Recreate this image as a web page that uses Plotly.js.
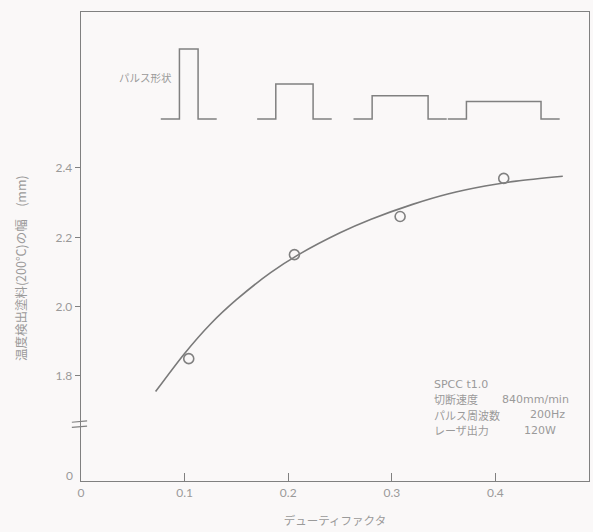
<!DOCTYPE html>
<html>
<head>
<meta charset="utf-8">
<script src="https://cdn.plot.ly/plotly-3.0.1.min.js"></script>
<style>
  html, body { margin: 0; padding: 0; background: #faf8f8; }
  #chart { width: 593px; height: 532px; }
</style>
</head>
<body>
<div id="chart"></div>
<script>
// Measured points: duty factor vs width of the 200°C temperature-indicating paint mark (mm)
const dutyFactor = [0.104, 0.206, 0.308, 0.408];
const markWidth  = [1.85, 2.15, 2.26, 2.37];

// Fitted trend curve through the measurements
const fitDuty  = [0.072, 0.10, 0.125, 0.15, 0.183, 0.21, 0.25, 0.28, 0.32, 0.354, 0.39, 0.42, 0.465];
const fitWidth = [1.755, 1.865, 1.95, 2.02, 2.098, 2.15, 2.213, 2.252, 2.295, 2.325, 2.348, 2.362, 2.376];

// Pulse illustrations: nominal duty of each pulse
const pulseDuty = [0.1, 0.2, 0.3, 0.4];

// Axis tick labels
const xTickVals = [0, 0.1, 0.2, 0.3, 0.4];
const xTickText = ['0', '0.1', '0.2', '0.3', '0.4'];
const yTickVals = [1.8, 2.0, 2.2, 2.4];
const yTickText = ['1.8', '2.0', '2.2', '2.4'];

// Cutting conditions: label / value pairs
const condLabels = ['SPCC t1.0', '切断速度', 'パルス周波数', 'レーザ出力'];
const condValues = ['', '840mm/min', '200Hz', '120W'];

const ink = '#808080';
const textInk = '#9a9a9a';
const jpFont = '"Noto Sans CJK JP", "Noto Sans", sans-serif';
const numFont = '"DejaVu Sans", "Noto Sans", sans-serif';
const tickFont = 'Lato, "Noto Sans", sans-serif';

// Square pulse outlines: width ∝ duty, height ∝ 1/duty (same mean power), centred on each duty
const pulseBase = 2.541;     // baseline level in y units
const pulseTail = 0.018;     // flat lead-in / lead-out in x units
const widthPerDuty = 0.18;
const heightScale = 0.0202;
const shapes = pulseDuty.map((d, i) => {
  const cx = dutyFactor[i];
  const w = d * widthPerDuty;
  const h = heightScale / d;
  const x0 = cx - w / 2, x1 = cx + w / 2;
  return {
    type: 'path', xref: 'x', yref: 'y', layer: 'above',
    path: `M ${x0 - pulseTail} ${pulseBase} L ${x0} ${pulseBase} L ${x0} ${pulseBase + h} ` +
          `L ${x1} ${pulseBase + h} L ${x1} ${pulseBase} L ${x1 + pulseTail} ${pulseBase}`,
    line: { color: ink, width: 1.5 }
  };
});

// Axis break marks on the y axis
const breakY = 1.661, breakGap = 0.0075;
[-1, 1].forEach(s => {
  shapes.push({
    type: 'line', xref: 'paper', yref: 'y', layer: 'above',
    x0: -0.018, x1: 0.012,
    y0: breakY + s * breakGap - 0.002, y1: breakY + s * breakGap + 0.002,
    line: { color: ink, width: 1.2 }
  });
});

const annotations = [
  // origin label of the broken y axis
  { xref: 'paper', yref: 'paper', x: -0.012, y: 0.011, xanchor: 'right', yanchor: 'middle',
    text: '0', showarrow: false, font: { family: tickFont, size: 12, color: textInk } },
  { xref: 'paper', yref: 'paper', x: 0.071, y: 0.861, xanchor: 'left', yanchor: 'middle',
    text: 'パルス形状', showarrow: false, font: { family: jpFont, size: 10.5, color: textInk } },
  // y axis title
  { xref: 'paper', yref: 'paper', x: -0.12, y: 0.454, xanchor: 'center', yanchor: 'middle',
    textangle: -90, text: '温度検出塗料(200℃)の幅\u3000(mm)', showarrow: false,
    font: { family: jpFont, size: 12.5, color: textInk } }
];
const condY = [0.2068, 0.1738, 0.1408, 0.1078];
const valueX = [0, 0.825, 0.880, 0.868];
condLabels.forEach((t, i) => {
  annotations.push({
    xref: 'paper', yref: 'paper', x: 0.691, y: condY[i], xanchor: 'left', yanchor: 'middle',
    text: t, showarrow: false,
    font: { family: i === 0 ? numFont : jpFont, size: 11, color: textInk }
  });
  if (condValues[i]) {
    annotations.push({
      xref: 'paper', yref: 'paper', x: valueX[i], y: condY[i], xanchor: 'left', yanchor: 'middle',
      text: condValues[i], showarrow: false, font: { family: numFont, size: 11, color: textInk }
    });
  }
});

const data = [
  {
    x: fitDuty, y: fitWidth, type: 'scatter', mode: 'lines',
    line: { color: '#7a7a7a', width: 1.6, shape: 'spline', smoothing: 0.8 },
    hoverinfo: 'skip'
  },
  {
    x: dutyFactor, y: markWidth, type: 'scatter', mode: 'markers',
    marker: { symbol: 'circle-open', size: 10, color: ink, line: { width: 1.6, color: ink } }
  }
];

const layout = {
  width: 593, height: 532,
  margin: { l: 81, r: 4, t: 12, b: 51 },
  paper_bgcolor: '#faf8f8',
  plot_bgcolor: '#faf8f8',
  showlegend: false,
  xaxis: {
    range: [0, 0.4903],
    tickvals: xTickVals, ticktext: xTickText,
    ticks: 'inside', ticklen: 8, tickcolor: ink, tickwidth: 1,
    showline: true, linecolor: ink, linewidth: 1.3, mirror: true,
    showgrid: false, zeroline: false,
    tickfont: { family: tickFont, size: 12, color: textInk },
    title: { text: 'デューティファクタ', font: { family: jpFont, size: 11.5, color: textInk }, standoff: 18 }
  },
  yaxis: {
    range: [1.497, 2.85],
    tickvals: yTickVals, ticktext: yTickText,
    ticks: 'outside', ticklen: 5, tickcolor: ink, tickwidth: 1,
    showline: true, linecolor: ink, linewidth: 1.3, mirror: true,
    showgrid: false, zeroline: false,
    tickfont: { family: tickFont, size: 12, color: textInk }
  },
  shapes: shapes,
  annotations: annotations
};

Plotly.newPlot('chart', data, layout, { displayModeBar: false, staticPlot: true });
</script>
</body>
</html>
